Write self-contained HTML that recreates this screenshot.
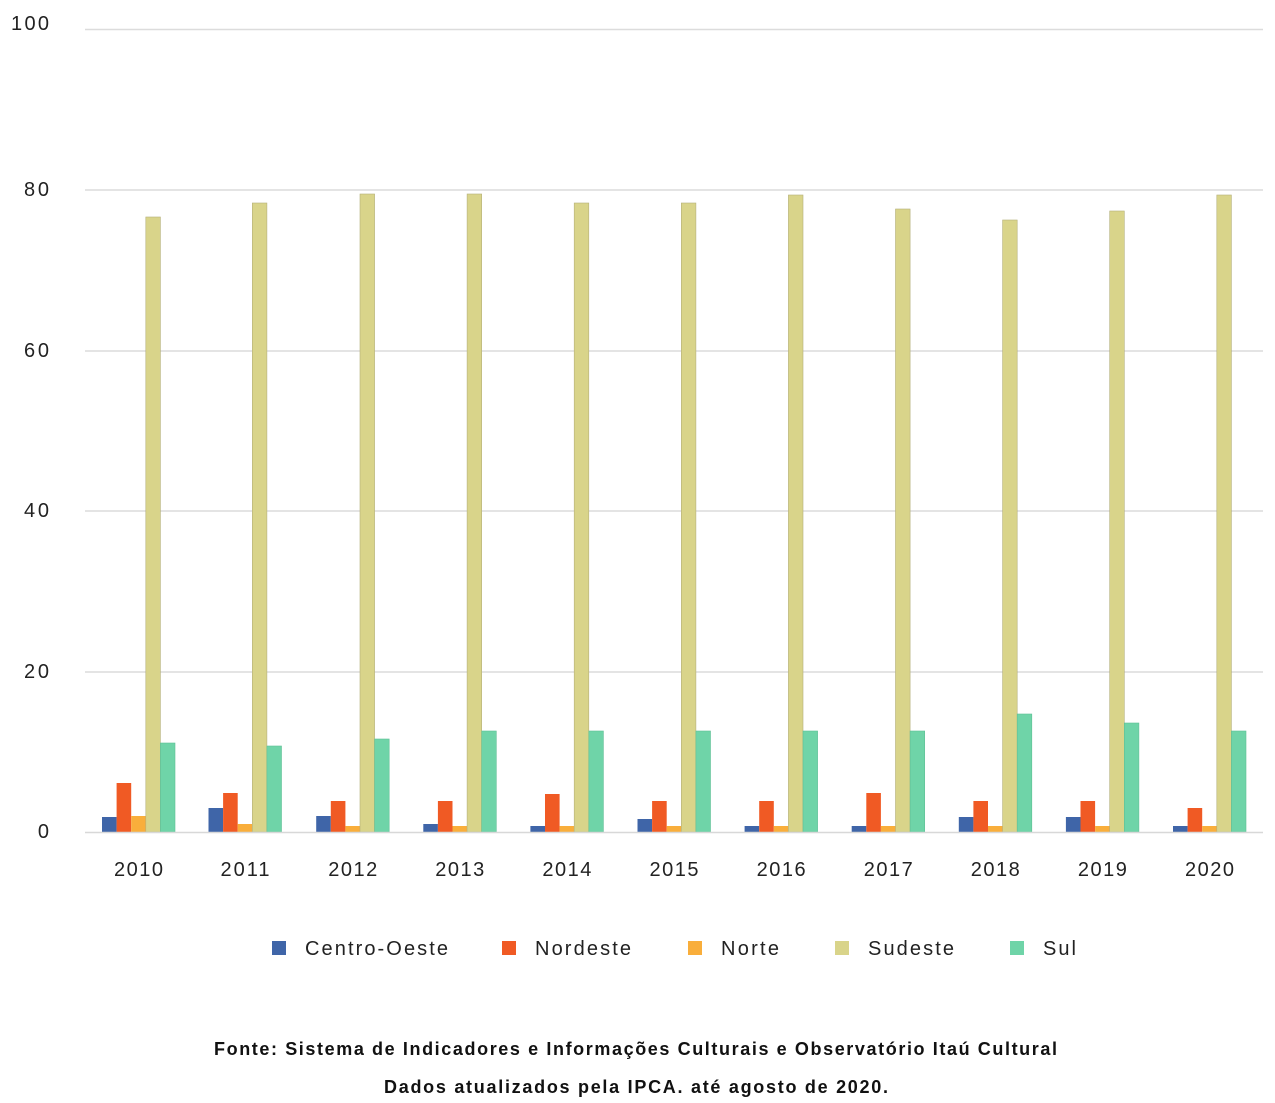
<!DOCTYPE html>
<html><head><meta charset="utf-8"><style>
body{margin:0;background:#fff;}
svg{display:block;font-family:"Liberation Sans",Arial,sans-serif;}
</style></head><body>
<svg width="1275" height="1103" viewBox="0 0 1275 1103" xmlns="http://www.w3.org/2000/svg">
<g stroke="#dcdcdc" stroke-width="1.5">
<line x1="85" x2="1263" y1="29.5" y2="29.5"/>
<line x1="85" x2="1263" y1="190" y2="190"/>
<line x1="85" x2="1263" y1="351" y2="351"/>
<line x1="85" x2="1263" y1="511" y2="511"/>
<line x1="85" x2="1263" y1="672" y2="672"/>
</g>
<g font-size="20" fill="#222" text-anchor="end">
<text x="49" y="30" textLength="38">100</text>
<text x="49" y="196" textLength="25">80</text>
<text x="49" y="357" textLength="25">60</text>
<text x="49" y="517" textLength="25">40</text>
<text x="49" y="678" textLength="25">20</text>
<text x="49" y="838">0</text>
</g>
<defs>
<style>
.a{fill:#3f65a8}.b{fill:#f05a24}.c{fill:#f9ae3b}.d{fill:#d9d48a;stroke:#b5b07a;stroke-width:0.6}.e{fill:#6fd4a8;stroke:#5fbf95;stroke-width:0.6}
</style>
</defs>
<g font-size="20" fill="#222" text-anchor="middle">
<g transform="translate(102,0)"><rect class="a" x="0" y="817" width="14.6" height="15"/><rect class="b" x="14.6" y="783" width="14.6" height="49"/><rect class="c" x="29.2" y="816" width="14.6" height="16"/><rect class="d" x="43.8" y="217" width="14.6" height="615"/><rect class="e" x="58.4" y="743" width="14.6" height="89"/><text x="36.5" y="876" textLength="49">2010</text></g>
<g transform="translate(208.5,0)"><rect class="a" x="0" y="808" width="14.6" height="24"/><rect class="b" x="14.6" y="793" width="14.6" height="39"/><rect class="c" x="29.2" y="824" width="14.6" height="8"/><rect class="d" x="43.8" y="203" width="14.6" height="629"/><rect class="e" x="58.4" y="746" width="14.6" height="86"/><text x="36.5" y="876" textLength="49">2011</text></g>
<g transform="translate(316.2,0)"><rect class="a" x="0" y="816" width="14.6" height="16"/><rect class="b" x="14.6" y="801" width="14.6" height="31"/><rect class="c" x="29.2" y="826" width="14.6" height="6"/><rect class="d" x="43.8" y="194" width="14.6" height="638"/><rect class="e" x="58.4" y="739" width="14.6" height="93"/><text x="36.5" y="876" textLength="49">2012</text></g>
<g transform="translate(423.3,0)"><rect class="a" x="0" y="824" width="14.6" height="8"/><rect class="b" x="14.6" y="801" width="14.6" height="31"/><rect class="c" x="29.2" y="826" width="14.6" height="6"/><rect class="d" x="43.8" y="194" width="14.6" height="638"/><rect class="e" x="58.4" y="731" width="14.6" height="101"/><text x="36.5" y="876" textLength="49">2013</text></g>
<g transform="translate(530.4,0)"><rect class="a" x="0" y="826" width="14.6" height="6"/><rect class="b" x="14.6" y="794" width="14.6" height="38"/><rect class="c" x="29.2" y="826" width="14.6" height="6"/><rect class="d" x="43.8" y="203" width="14.6" height="629"/><rect class="e" x="58.4" y="731" width="14.6" height="101"/><text x="36.5" y="876" textLength="49">2014</text></g>
<g transform="translate(637.5,0)"><rect class="a" x="0" y="819" width="14.6" height="13"/><rect class="b" x="14.6" y="801" width="14.6" height="31"/><rect class="c" x="29.2" y="826" width="14.6" height="6"/><rect class="d" x="43.8" y="203" width="14.6" height="629"/><rect class="e" x="58.4" y="731" width="14.6" height="101"/><text x="36.5" y="876" textLength="49">2015</text></g>
<g transform="translate(744.6,0)"><rect class="a" x="0" y="826" width="14.6" height="6"/><rect class="b" x="14.6" y="801" width="14.6" height="31"/><rect class="c" x="29.2" y="826" width="14.6" height="6"/><rect class="d" x="43.8" y="195" width="14.6" height="637"/><rect class="e" x="58.4" y="731" width="14.6" height="101"/><text x="36.5" y="876" textLength="49">2016</text></g>
<g transform="translate(851.7,0)"><rect class="a" x="0" y="826" width="14.6" height="6"/><rect class="b" x="14.6" y="793" width="14.6" height="39"/><rect class="c" x="29.2" y="826" width="14.6" height="6"/><rect class="d" x="43.8" y="209" width="14.6" height="623"/><rect class="e" x="58.4" y="731" width="14.6" height="101"/><text x="36.5" y="876" textLength="49">2017</text></g>
<g transform="translate(958.8,0)"><rect class="a" x="0" y="817" width="14.6" height="15"/><rect class="b" x="14.6" y="801" width="14.6" height="31"/><rect class="c" x="29.2" y="826" width="14.6" height="6"/><rect class="d" x="43.8" y="220" width="14.6" height="612"/><rect class="e" x="58.4" y="714" width="14.6" height="118"/><text x="36.5" y="876" textLength="49">2018</text></g>
<g transform="translate(1065.9,0)"><rect class="a" x="0" y="817" width="14.6" height="15"/><rect class="b" x="14.6" y="801" width="14.6" height="31"/><rect class="c" x="29.2" y="826" width="14.6" height="6"/><rect class="d" x="43.8" y="211" width="14.6" height="621"/><rect class="e" x="58.4" y="723" width="14.6" height="109"/><text x="36.5" y="876" textLength="49">2019</text></g>
<g transform="translate(1173,0)"><rect class="a" x="0" y="826" width="14.6" height="6"/><rect class="b" x="14.6" y="808" width="14.6" height="24"/><rect class="c" x="29.2" y="826" width="14.6" height="6"/><rect class="d" x="43.8" y="195" width="14.6" height="637"/><rect class="e" x="58.4" y="731" width="14.6" height="101"/><text x="36.5" y="876" textLength="49">2020</text></g>
</g>
<line x1="85" x2="1263" y1="832.5" y2="832.5" stroke="#d8d8d8" stroke-width="1.5"/>
<g font-size="20" fill="#222">
<rect x="272" y="941" width="14" height="14" fill="#3f65a8"/><text x="305" y="955" textLength="143">Centro-Oeste</text>
<rect x="502" y="941" width="14" height="14" fill="#f05a24"/><text x="535" y="955" textLength="96">Nordeste</text>
<rect x="688" y="941" width="14" height="14" fill="#f9ae3b"/><text x="721" y="955" textLength="58">Norte</text>
<rect x="835" y="941" width="14" height="14" fill="#d9d48a"/><text x="868" y="955" textLength="86">Sudeste</text>
<rect x="1010" y="941" width="14" height="14" fill="#6fd4a8"/><text x="1043" y="955" textLength="33">Sul</text>
</g>
<g font-size="18" font-weight="bold" fill="#111">
<text x="214" y="1055" textLength="843">Fonte: Sistema de Indicadores e Informações Culturais e Observatório Itaú Cultural</text>
<text x="384" y="1093" textLength="504">Dados atualizados pela IPCA. até agosto de 2020.</text>
</g>
</svg>
</body></html>
